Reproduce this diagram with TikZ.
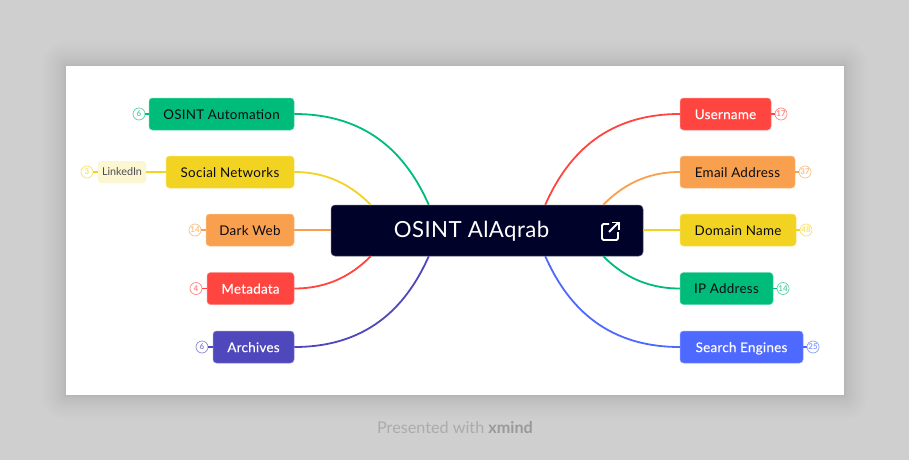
\documentclass[tikz,border=0pt]{standalone}
\usepackage{fontspec}
\setmainfont{Lato}
\definecolor{pagebg}{HTML}{CFCFCF}
\definecolor{cgreen}{HTML}{00BC7B}
\definecolor{cyellow}{HTML}{F3D321}
\definecolor{corange}{HTML}{F8A04E}
\definecolor{cred}{HTML}{FF4540}
\definecolor{cindigo}{HTML}{4F48BD}
\definecolor{cblue}{HTML}{4D69FF}
\definecolor{cnavy}{HTML}{000229}
\definecolor{ctext}{HTML}{0B0B14}
\tikzset{
  topic/.style={rectangle,rounded corners=3.5pt,minimum height=32pt,inner sep=0pt,text height=10.2pt,text depth=0pt,font=\fontsize{13.4}{15}\selectfont\addfontfeature{LetterSpace=2},anchor=center,line width=.5pt},
  topicg/.style={topic,fill=#1,draw=#1!65!white,text=ctext},
  topicw/.style={topic,fill=#1,draw=#1!65!white,text=white},
  badge/.style={circle,draw=#1!65!white,fill=white,text=#1!65!white,line width=.7pt,minimum size=12pt,inner sep=0pt,font=\fontsize{8}{9}\selectfont\bfseries},
  branch/.style={draw=#1,line width=1.8pt},
  stub/.style={draw=#1,line width=1.2pt},
}
\begin{document}
\begin{tikzpicture}[x=1pt,y=-1pt]
\useasboundingbox (0,0) rectangle (909,460);
\fill[pagebg] (0,0) rectangle (909,460);
% soft shadow round the sheet
\foreach \n in {14,13,...,0}{
  \pgfmathsetmacro{\s}{\n*\n/8}
  \fill[black,opacity=.008,rounded corners=\s pt] (66-\s,66-\s) rectangle (844+\s,395+\s);
}
\fill[white] (66,66) rectangle (844,395);

% centre
\node[rectangle,rounded corners=4pt,fill=cnavy,draw=cnavy!65!white,line width=.5pt,minimum width=312pt,minimum height=51pt,inner sep=0pt] (center) at (487,230.5) {};
\node[text=white,font=\fontsize{22.2}{26}\selectfont\addfontfeature{LetterSpace=2},anchor=center] (title) at (471.5,231.5) {OSINT AlAqrab};

% left topics
\node[topicg=cgreen,minimum width=145pt] (auto) at (221.5,114) {OSINT Automation};
\node[topicg=cyellow,minimum width=128pt] (social) at (230,172) {Social Networks};
\node[topicg=corange,minimum width=88pt] (dark) at (250,230) {Dark Web};
\node[topicw=cred,minimum width=87pt] (meta) at (250.5,288.5) {\addfontfeature{FakeBold=.3}Metadata};
\node[topicw=cindigo,minimum width=81pt] (arch) at (253.5,347) {\addfontfeature{FakeBold=.3}Archives};
% right topics
\node[topicw=cred,minimum width=91pt] (user) at (725.5,114) {\addfontfeature{FakeBold=.3}Username};
\node[topicg=corange,minimum width=115pt] (mail) at (737.5,172) {Email Address};
\node[topicg=cyellow,minimum width=116pt] (domain) at (738,230) {Domain Name};
\node[topicg=cgreen,minimum width=93pt] (ip) at (726.5,288.5) {IP Address};
\node[topicw=cblue,minimum width=123pt] (search) at (741.5,347) {\addfontfeature{FakeBold=.3}Search Engines};
% LinkedIn subtopic
\node[rectangle,rounded corners=3pt,fill=cyellow!20!white,text=black!70,minimum width=48pt,minimum height=22pt,inner sep=0pt,font=\fontsize{10.8}{12}\selectfont] (linked) at (122,172) {LinkedIn};

% badges
\node[badge=cgreen] (b1) at (139,114) {6};
\node[badge=cyellow] (b2) at (87,172) {3};
\node[badge=corange] (b3) at (195,230) {14};
\node[badge=cred] (b4) at (196,288.5) {4};
\node[badge=cindigo] (b5) at (202,347) {6};
\node[badge=cred] (b6) at (781,114) {17};
\node[badge=corange] (b7) at (805,172) {37};
\node[badge=cyellow] (b8) at (806,230) {48};
\node[badge=cgreen] (b9) at (783,288.5) {14};
\node[badge=cblue] (b10) at (813,347) {25};

% connector ends on the centre box
\coordinate (cTL) at ([xshift=98pt]center.north west);
\coordinate (cTLi) at ([xshift=40pt]center.north west);
\coordinate (cBL) at ([xshift=98pt]center.south west);
\coordinate (cBLi) at ([xshift=40pt]center.south west);
\coordinate (cTR) at ([xshift=-98pt]center.north east);
\coordinate (cTRi) at ([xshift=-40pt]center.north east);
\coordinate (cBR) at ([xshift=-98pt]center.south east);
\coordinate (cBRi) at ([xshift=-40pt]center.south east);

% branches
\draw[branch=cgreen] (auto.east) .. controls +(78,0) and +(-20,-45) .. (cTL);
\draw[branch=cyellow] (social.east) .. controls +(35,0) and +(-18,-18) .. (cTLi);
\draw[branch=corange] (dark.east) -- (dark.east -| center.west);
\draw[branch=cred] (meta.east) .. controls +(35,0) and +(-18,18) .. (cBLi);
\draw[branch=cindigo] (arch.east) .. controls +(78,0) and +(-20,45) .. (cBL);
\draw[branch=cred] (user.west) .. controls +(-78,0) and +(20,-45) .. (cTR);
\draw[branch=corange] (mail.west) .. controls +(-35,0) and +(18,-18) .. (cTRi);
\draw[branch=cyellow] (domain.west) -- (domain.west -| center.east);
\draw[branch=cgreen] (ip.west) .. controls +(-35,0) and +(18,18) .. (cBRi);
\draw[branch=cblue] (search.west) .. controls +(-78,0) and +(20,45) .. (cBR);

% stubs
\draw[stub=cgreen] (auto.west) -- (b1.east);
\draw[stub=cyellow] (social.west) -- (linked.east);
\draw[stub=cyellow] (linked.west) -- (b2.east);
\draw[stub=corange] (dark.west) -- (b3.east);
\draw[stub=cred] (meta.west) -- (b4.east);
\draw[stub=cindigo] (arch.west) -- (b5.east);
\draw[stub=cred] (user.east) -- (b6.west);
\draw[stub=corange] (mail.east) -- (b7.west);
\draw[stub=cyellow] (domain.east) -- (b8.west);
\draw[stub=cgreen] (ip.east) -- (b9.west);
\draw[stub=cblue] (search.east) -- (b10.west);

% external-link icon
\draw[white,line width=1.8pt,rounded corners=1.5pt] (609,224) -- (602,224) -- (602,240) -- (618,240) -- (618,232);
\draw[white,line width=1.8pt] (609,232) -- (618.5,222.5);
\draw[white,line width=1.8pt] (612,222.5) -- (619.3,222.5) -- (619.3,229.5);

% footer
\node[text=black!33,font=\fontsize{16.2}{18}\selectfont,inner sep=0pt] (foot) at (455,428) {Presented with \textbf{\textcolor{black!40}{xmind}}};
\end{tikzpicture}
\end{document}
